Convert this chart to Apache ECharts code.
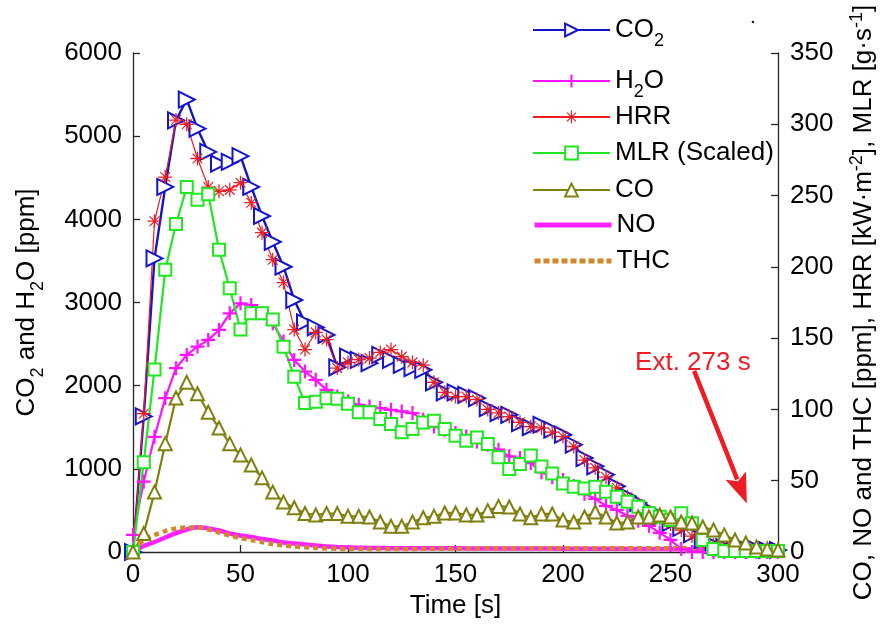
<!DOCTYPE html>
<html><head><meta charset="utf-8">
<script src="https://cdn.jsdelivr.net/npm/echarts@6/dist/echarts.min.js"></script>
<style>html,body{margin:0;padding:0;background:#fff}#c{width:885px;height:630px}</style>
</head><body><div id="c"></div>
<script>
const time = [0,5,10,15,20,25,30,35,40,45,50,55,60,65,70,75,80,85,90,95,100,105,110,115,120,125,130,135,140,145,150,155,160,165,170,175,180,185,190,195,200,205,210,215,220,225,230,235,240,245,250,255,260,265,270,275,280,285,290,295,300];
const co2 = [0,1630,3530,4390,5190,5440,5090,4810,4670,4690,
4760,4390,4040,3730,3430,3030,2760,2700,2610,2220,
2350,2310,2270,2370,2310,2250,2210,2190,2040,1920,
1920,1890,1850,1730,1670,1650,1550,1500,1530,1470,
1410,1290,1130,1030,930,790,670,590,505,420,
350,290,215,145,85,60,48,36,36,24,
24];
const h2o = [205,845,1385,1850,2210,2370,2470,2550,2670,2870,
2990,2970,2870,2750,2530,2310,2170,2070,1950,1870,
1810,1770,1750,1730,1710,1690,1670,1590,1510,1470,
1430,1390,1330,1290,1230,1150,1130,1070,960,900,
865,795,700,640,555,505,435,375,315,230,
145,35,0,0,0,0,0,0,0,0,
0];
const hrr = [0,97,232,263,303,300,276,256,253,254,
259,245,224,205,189,156,142,154,149,129,
133,135,136,140,142,137,133,131,119,112,
109,109,107,100,97.5,95,91,88,87,84,
81,74,64.5,59,52.6,45,38.6,33.7,28,23.8,
19.6,15.4,11.2,7.7,4.9,3.5,2.8,2.1,2.1,1.4,
1.4];
const mlr = [0,63,128,198,230,256,247,251,212,185,
156,167.5,167.5,163,144,123,104.5,105.4,107.8,107.5,
104,98,98,93.3,89.8,84,86.2,90.9,92.1,86.2,
81.5,78,80.3,75.8,66.4,58.2,61.7,67.6,60,55,
48,45.7,44.6,45.7,42.3,38.8,35.3,31.8,27.1,24.8,
22.4,27.1,20.2,8.4,2.1,0.7,0.7,0.7,0.7,0.7,
0.7];
const co = [0,13,42,76,108,119,111,98,87,76,
68,61,52,42,35,31,27,26,27,27,
25,25,24.5,21,18,18,21,24,25,27.4,
27.4,26,26,29,32,31.6,26.7,24,26.7,26.7,
22.4,21,24.5,28,24.5,20.3,21,24.5,24.5,26,
24.5,21,20.3,17.5,15.4,12,8.4,6.3,3.5,2.1,
1.4];
const no = [0,4.2,7,10.2,13.3,15.8,17.3,16.5,15.1,13,
11.6,10.5,9.1,8.1,6.7,6,5.3,4.6,3.9,3.5,
3.2,2.9,2.8,2.8,2.7,2.7,2.7,2.6,2.6,2.6,
2.6,2.5,2.5,2.5,2.5,2.5,2.4,2.4,2.4,2.4,
2.3,2.3,2.3,2.3,2.2,2.2,2.2,2.1,2.1,2.1,
2,2,1.9,1.8,1.7,1.6,1.5,1.5,1.4,1.4,
1.4];
const thc = [0.7,8.4,11.9,14.7,16.5,17.2,17.2,15.8,13.7,11.6,
9.8,8.4,7,5.6,4.6,3.9,3.3,2.8,2.5,2.3,
2.1,2.1,2.1,2.1,2.1,2.1,2.1,2.2,2.2,2.3,
2.3,2.4,2.5,2.6,2.7,2.7,2.7,2.7,2.7,2.7,
2.7,2.7,2.7,2.7,2.7,2.7,2.7,2.7,2.7,2.7,
2.7,2.7,2.7,2.7,2.7,2.6,2.5,2.4,2.3,2.2,
2.2];
const seriesNames = ['CO2','H2O','HRR','MLR (Scaled)','CO','NO','THC'];
const xTicks = [0,50,100,150,200,250,300];
const annotText = 'Ext. 273 s';
const annotTextAt = [260.5, 131];
const arrowFrom = [261, 127];
const arrowTo = [285.5, 34];

const FONT = "'Liberation Sans', Arial, Helvetica, sans-serif";
const FS = 26;
const C = {co2:'#1414cc', h2o:'#ff14ff', hrr:'#ee1c24', mlr:'#1fe81f', co:'#808010', no:'#ff22ff', thc:'#d0882a', red:'#ee1c24'};
const plusPath = 'path://M-1.6,-10H1.6V-1.6H10V1.6H1.6V10H-1.6V1.6H-10V-1.6H-1.6Z';
const starPath = 'path://M-0.9,-10H0.9V10H-0.9Z M-10,-0.9H10V0.9H-10Z M-6.4,-7.6L7.6,6.4L6.4,7.6L-7.6,-6.4Z M-7.6,6.4L6.4,-7.6L7.6,-6.4L-6.4,7.6Z';

function pairs(arr){ return time.map((t,i)=>[t, arr[i]]); }

const rich = {
  n:{fontSize:FS, fontFamily:FONT, color:'#000', padding:[7,0,7,0], verticalAlign:'bottom'},
  s:{fontSize:18, fontFamily:FONT, color:'#000', verticalAlign:'bottom'},
  m:{fontSize:FS, fontFamily:FONT, color:'#000', verticalAlign:'bottom'},
  p:{fontSize:18, fontFamily:FONT, color:'#000', padding:[0,0,11,0], verticalAlign:'bottom'}
};
function legendFmt(nm){
  if(nm==='CO2') return '{n|CO}{s|2}';
  if(nm==='H2O') return '{n|H}{s|2}{n|O}';
  return '{m|'+nm+'}';
}
const legendCenters = [28, 79, 114, 150, 187, 222, 258];
const legends = seriesNames.map((nm,i)=>{
  const lg = {
    data:[nm], left:532, top: legendCenters[i] - (i<2 ? 11 : 10),
    orient:'vertical', itemWidth:77, itemHeight:16, itemGap:0, padding:0,
    selectedMode:false, formatter: legendFmt,
    textStyle:{fontSize:FS, fontFamily:FONT, color:'#000', rich: rich}
  };
  if (nm==='NO') { lg.itemStyle = {opacity:0}; lg.lineStyle = {width:5}; }
  if (nm==='THC') { lg.itemStyle = {opacity:0}; lg.lineStyle = {width:5, type:[6,3]}; }
  return lg;
});

const axisLineStyle = {color:'#262626', width:1.3};
const chart = echarts.init(document.getElementById('c'), null, {renderer:'canvas'});
chart.setOption({
  animation:false,
  backgroundColor:'#fff',
  grid:{left:133, right:105, top:53, bottom:78, containLabel:false},
  legend: legends,
  xAxis:{type:'value', min:0, max:300, interval:50,
    name:'Time [s]', nameLocation:'middle', nameGap:40,
    nameTextStyle:{fontSize:FS, fontFamily:FONT, color:'#000'},
    axisLine:{show:true, onZero:false, lineStyle:axisLineStyle},
    axisTick:{show:true, inside:true, length:7, lineStyle:axisLineStyle},
    axisLabel:{fontSize:FS, fontFamily:FONT, color:'#000', margin:10,
      formatter: v => xTicks.indexOf(v)>=0 ? String(v) : ''},
    splitLine:{show:false}},
  yAxis:[
    {type:'value', min:0, max:6000, interval:1000, position:'left',
      name:'{n|CO}{s|2}{n| and H}{s|2}{n|O [ppm]}', nameLocation:'middle', nameRotate:90, nameGap:86,
      nameTextStyle:{fontSize:FS, fontFamily:FONT, color:'#000', rich:rich},
      axisLine:{show:true, lineStyle:axisLineStyle},
      axisTick:{show:true, inside:true, length:7, lineStyle:axisLineStyle},
      axisLabel:{fontSize:FS, fontFamily:FONT, color:'#000', margin:11, formatter: v => String(v)},
      splitLine:{show:false}},
    {type:'value', min:0, max:350, interval:50, position:'right',
      name:'{m|CO, NO and THC [ppm], HRR [kW·m}{p|-2}{m|], MLR [g·s}{p|-1}{m|]}', nameLocation:'middle', nameRotate:90, nameGap:70,
      nameTextStyle:{fontSize:FS, fontFamily:FONT, color:'#000', rich:rich},
      axisLine:{show:true, lineStyle:axisLineStyle},
      axisTick:{show:true, inside:true, length:7, lineStyle:axisLineStyle},
      axisLabel:{fontSize:FS, fontFamily:FONT, color:'#000', margin:12, formatter: v => String(v)},
      splitLine:{show:false}}
  ],
  series:[
    {name:'CO2', type:'line', yAxisIndex:0, data:pairs(co2), symbol:'emptyTriangle', symbolRotate:-90, symbolSize:16,
      lineStyle:{color:C.co2, width:2.4}, itemStyle:{color:C.co2, borderWidth:2.4}},
    {name:'H2O', type:'line', yAxisIndex:0, data:pairs(h2o), symbol:plusPath, symbolSize:14,
      lineStyle:{color:C.h2o, width:2.2}, itemStyle:{color:C.h2o}},
    {name:'HRR', type:'line', yAxisIndex:1, data:pairs(hrr), symbol:starPath, symbolSize:14,
      lineStyle:{color:C.hrr, width:1.2}, itemStyle:{color:C.hrr}},
    {name:'MLR (Scaled)', type:'line', yAxisIndex:1, data:pairs(mlr), symbol:'emptyRect', symbolSize:12,
      lineStyle:{color:C.mlr, width:2.2}, itemStyle:{color:C.mlr, borderWidth:2.2}},
    {name:'CO', type:'line', yAxisIndex:1, data:pairs(co), symbol:'emptyTriangle', symbolSize:13,
      lineStyle:{color:C.co, width:2.2}, itemStyle:{color:C.co, borderWidth:2.2}},
    {name:'NO', type:'line', yAxisIndex:1, data:pairs(no), showSymbol:false, symbol:'none', smooth:0.3,
      lineStyle:{color:C.no, width:4.5}, itemStyle:{color:C.no}},
    {name:'THC', type:'line', yAxisIndex:1, data:pairs(thc), showSymbol:false, symbol:'none', smooth:0.3,
      lineStyle:{color:C.thc, width:4.5, type:[5,4]}, itemStyle:{color:C.thc}}
  ]
});

function addAnnotation(){
  const tp = chart.convertToPixel({xAxisIndex:0, yAxisIndex:1}, annotTextAt);
  const a = chart.convertToPixel({xAxisIndex:0, yAxisIndex:1}, arrowFrom);
  const b = chart.convertToPixel({xAxisIndex:0, yAxisIndex:1}, arrowTo);
  const dx = b[0]-a[0], dy = b[1]-a[1], L = Math.hypot(dx,dy);
  const ux = dx/L, uy = dy/L, px = -uy, py = ux;
  const headLen = 30, headHalf = 11;
  const bx = b[0]-ux*headLen, by = b[1]-uy*headLen;
  chart.setOption({graphic:[
    {type:'text', left:tp[0]-58, top:tp[1]-15, style:{text:annotText, fill:C.red, fontSize:FS, fontFamily:FONT}},
    {type:'line', shape:{x1:a[0], y1:a[1], x2:bx+ux*4, y2:by+uy*4}, style:{stroke:C.red, lineWidth:4.5}},
    {type:'polygon', shape:{points:[[b[0],b[1]],[bx+px*headHalf, by+py*headHalf],[bx+ux*6, by+uy*6],[bx-px*headHalf, by-py*headHalf]]}, style:{fill:C.red}},
    {type:'circle', shape:{cx:753, cy:22, r:1.3}, style:{fill:'#222'}}
  ]});
}
addAnnotation();
</script></body></html>
